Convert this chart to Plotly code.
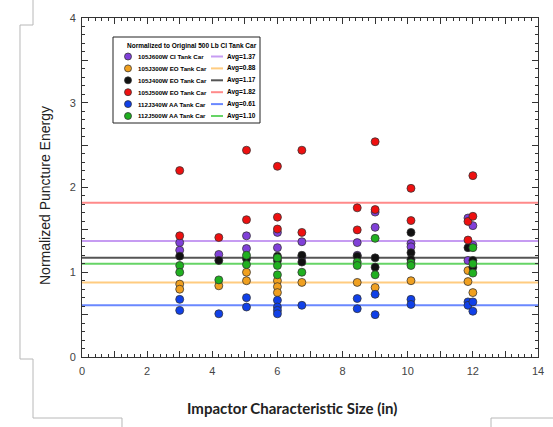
import plotly.graph_objects as go

# ---------------- data ----------------
series_names = ["105J600W CI Tank Car", "105J300W EO Tank Car", "105J400W EO Tank Car",
                "105J500W EO Tank Car", "112J340W AA Tank Car", "112J500W AA Tank Car"]
avg_values = [1.37, 0.88, 1.17, 1.82, 0.61, 1.10]

purple_x = [3, 3, 4.2, 5.05, 5.05, 6, 6, 6.75, 6.75, 8.45, 8.45, 9, 9, 10.1, 10.1, 11.85, 11.85, 12, 12]
purple_y = [1.35, 1.26, 1.21, 1.43, 1.28, 1.47, 1.29, 1.36, 1.18, 1.35, 1.20, 1.71, 1.53, 1.34, 1.30, 1.64, 1.14, 1.55, 1.32]

orange_x = [3, 3, 4.2, 5.05, 5.05, 6, 6, 6, 6.75, 8.45, 9, 10.1, 11.85, 11.85, 12]
orange_y = [0.86, 0.80, 0.84, 1.00, 0.90, 0.90, 0.83, 0.76, 0.88, 0.88, 0.82, 0.90, 1.02, 0.89, 0.76]

black_x = [3, 4.2, 5.05, 6, 6, 6.75, 6.75, 8.45, 9, 9, 10.1, 10.1, 10.1, 11.85, 12, 12]
black_y = [1.19, 1.14, 1.16, 1.19, 1.14, 1.20, 1.12, 1.19, 1.17, 1.06, 1.47, 1.23, 1.15, 1.29, 1.14, 1.06]

red_x = [3, 3, 4.2, 5.05, 5.05, 6, 6, 6, 6.75, 6.75, 8.45, 8.45, 9, 9, 10.1, 10.1, 11.85, 11.85, 12, 12]
red_y = [2.20, 1.43, 1.41, 2.44, 1.62, 2.25, 1.65, 1.51, 2.44, 1.47, 1.76, 1.50, 2.54, 1.74, 1.99, 1.61, 1.60, 1.38, 2.14, 1.66]

blue_x = [3, 3, 4.2, 5.05, 5.05, 6, 6, 6, 6, 6.75, 8.45, 8.45, 9, 9, 10.1, 10.1, 11.85, 11.85, 12, 12]
blue_y = [0.68, 0.55, 0.51, 0.70, 0.59, 0.67, 0.59, 0.55, 0.51, 0.61, 0.69, 0.57, 0.74, 0.50, 0.68, 0.62, 0.65, 0.61, 0.65, 0.54]

green_x = [3, 3, 4.2, 5.05, 5.05, 6, 6, 6, 6.75, 8.45, 8.45, 9, 9, 10.1, 10.1, 12, 12, 12]
green_y = [1.08, 1.00, 0.91, 1.20, 1.09, 1.17, 1.08, 0.97, 1.00, 1.12, 1.08, 1.40, 0.97, 1.11, 1.08, 1.29, 1.10, 0.99]

x_tickvals = list(range(0, 15))
x_ticktext = ["0", "", "2", "", "4", "", "6", "", "8", "", "10", "", "12", "", "14"]
y_tickvals = [0, 0.5, 1, 1.5, 2, 2.5, 3, 3.5, 4]
y_ticktext = ["0", "", "1", "", "2", "", "3", "", "4"]

legend_title = "Normalized to Original 500 Lb CI Tank Car"
x_title = "Impactor Characteristic Size (in)"
y_title = "Normalized Puncture Energy"

# ---------------- styles ----------------
marker_colors = ["#8040d8", "#f0a020", "#111111", "#ee1010", "#1040e8", "#20b020"]
line_colors = ["#c69cf2", "#ffcc80", "#555555", "#ff8a8a", "#6a88ff", "#66d466"]

series_x = [purple_x, orange_x, black_x, red_x, blue_x, green_x]
series_y = [purple_y, orange_y, black_y, red_y, blue_y, green_y]

W, H = 553, 427
L, R, T, B = 82, 15, 18, 70
PW, PH = W - L - R, H - T - B


def px(x):
    return (x - L) / PW


def py(y):
    return (H - B - y) / PH


fig = go.Figure()

# average lines (under markers)
for name, avg, col in zip(series_names, avg_values, line_colors):
    fig.add_trace(go.Scatter(x=[0, 14], y=[avg, avg], mode="lines",
                             line=dict(color=col, width=2), showlegend=False,
                             hoverinfo="skip"))

for name, xs, ys, col in zip(series_names, series_x, series_y, marker_colors):
    fig.add_trace(go.Scatter(x=xs, y=ys, mode="markers", name=name, showlegend=False,
                             marker=dict(color=col, size=8,
                                         line=dict(color="rgba(50,50,50,0.75)", width=1))))

shapes = []
annotations = []

# ---- manual legend ----
LF = 6.2
box_l, box_t, box_r, box_b = 113, 37, 260, 123
shapes.append(dict(type="rect", xref="paper", yref="paper",
                   x0=px(box_l), x1=px(box_r), y0=py(box_b), y1=py(box_t),
                   line=dict(color="#222222", width=1), fillcolor="white", layer="above"))
annotations.append(dict(text=legend_title, xref="paper", yref="paper", x=px(125), y=py(46),
                        xanchor="left", yanchor="middle", showarrow=False,
                        font=dict(family="Liberation Sans", size=6.5, color="#000000", weight="bold")))
row0, dy = 56.5, 11.9
for i, (name, avg, mc, lc) in enumerate(zip(series_names, avg_values, marker_colors, line_colors)):
    yy = row0 + i * dy
    shapes.append(dict(type="circle", xref="paper", yref="paper",
                       x0=px(128 - 3.5), x1=px(128 + 3.5), y0=py(yy + 3.5), y1=py(yy - 3.5),
                       fillcolor=mc, line=dict(color="rgba(50,50,50,0.75)", width=1), layer="above"))
    annotations.append(dict(text=name, xref="paper", yref="paper", x=px(136), y=py(yy),
                            xanchor="left", yanchor="middle", showarrow=False,
                            font=dict(family="Liberation Sans", size=LF, color="#000000", weight="bold")))
    shapes.append(dict(type="line", xref="paper", yref="paper",
                       x0=px(211), x1=px(223), y0=py(yy), y1=py(yy),
                       line=dict(color=lc, width=2), layer="above"))
    annotations.append(dict(text="Avg=%.2f" % avg, xref="paper", yref="paper", x=px(225), y=py(yy),
                            xanchor="left", yanchor="middle", showarrow=False,
                            font=dict(family="Liberation Sans", size=6.5, color="#000000", weight="bold")))

# ---- axis titles ----
annotations.append(dict(text=x_title, xref="paper", yref="paper", x=px(292), y=py(408),
                        xanchor="center", yanchor="middle", showarrow=False,
                        font=dict(family="Lato", size=15, color="#222222", weight="bold")))
annotations.append(dict(text=y_title, xref="paper", yref="paper", x=px(45), y=py(196),
                        xanchor="center", yanchor="middle", showarrow=False, textangle=-90,
                        font=dict(family="Liberation Sans", size=14, color="#222222")))

# ---- screenshot frame lines ----
frame_col = "#b8b8b8"
left_path = [(33, 0), (33, 25), (20, 25), (20, 359), (33, 359), (33, 418), (122, 418), (122, 427)]
right_path = [(491, 427), (491, 418), (553, 418)]
for pts in (left_path, right_path):
    d = "M " + " L ".join("%f,%f" % (px(a), py(b)) for a, b in pts)
    shapes.append(dict(type="path", xref="paper", yref="paper", path=d,
                       line=dict(color=frame_col, width=1)))

axis_common = dict(showgrid=False, zeroline=False, showline=True, linecolor="#333333", linewidth=1,
                    mirror="ticks", ticks="inside", ticklen=6, tickcolor="#333333", tickwidth=1,
                    tickfont=dict(family="Liberation Sans", size=11, color="#444444"))

fig.update_layout(
    width=W, height=H,
    margin=dict(l=L, r=R, t=T, b=B, autoexpand=False),
    paper_bgcolor="white", plot_bgcolor="white",
    showlegend=False,
    shapes=shapes, annotations=annotations,
    xaxis=dict(range=[0, 14], tickmode="array", tickvals=x_tickvals, ticktext=x_ticktext,
               ticklabelstandoff=4,
               minor=dict(dtick=0.2, ticks="inside", ticklen=3, tickcolor="#333333", showgrid=False),
               **axis_common),
    yaxis=dict(range=[0, 4], tickmode="array", tickvals=y_tickvals, ticktext=y_ticktext,
               ticklabelstandoff=3,
               minor=dict(dtick=0.1, ticks="inside", ticklen=3, tickcolor="#333333", showgrid=False),
               **axis_common),
)

fig.write_html("out.html", config={"displayModeBar": False},
               post_script="document.body.style.margin='0px';document.body.style.overflow='hidden';")
